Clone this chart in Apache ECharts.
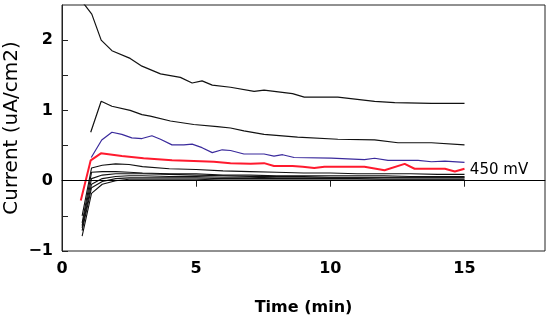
<!DOCTYPE html>
<html><head><meta charset="utf-8">
<script src="https://cdn.jsdelivr.net/npm/echarts@6/dist/echarts.min.js"></script>
<style>html,body{margin:0;padding:0;background:#fff}#c{width:550px;height:321px}</style>
</head><body><div id="c"></div>
<script>
// Series 1 (top black)
const t1 = [0.75, 1.11, 1.46, 1.86, 2.54, 2.98, 3.67, 4.41, 4.85, 5.22, 5.6, 6.28, 7.16, 7.53, 8.59, 9.03, 10.28, 11.65, 12.4, 13.77, 15.0];
const v1 = [2.55, 2.37, 2.0, 1.85, 1.74, 1.63, 1.52, 1.47, 1.39, 1.42, 1.36, 1.33, 1.27, 1.29, 1.24, 1.19, 1.19, 1.13, 1.11, 1.10, 1.10];
// Series 2 (second black)
const t2 = [1.07, 1.46, 1.86, 2.54, 2.98, 3.29, 4.04, 4.91, 5.79, 6.28, 6.78, 7.53, 8.78, 10.28, 11.65, 12.52, 13.77, 15.0];
const v2 = [0.69, 1.13, 1.06, 1.00, 0.94, 0.92, 0.85, 0.80, 0.77, 0.75, 0.71, 0.66, 0.62, 0.59, 0.58, 0.54, 0.54, 0.51];
// Series 3 (blue)
const t3 = [1.09, 1.48, 1.86, 2.23, 2.6, 2.98, 3.35, 3.67, 4.1, 4.54, 4.85, 5.22, 5.6, 5.97, 6.28, 6.78, 7.53, 7.9, 8.22, 8.65, 10.03, 11.27, 11.65, 12.15, 13.27, 13.77, 14.27, 15.0];
const v3 = [0.33, 0.58, 0.69, 0.66, 0.61, 0.60, 0.64, 0.59, 0.51, 0.51, 0.52, 0.47, 0.40, 0.44, 0.43, 0.38, 0.38, 0.35, 0.37, 0.33, 0.32, 0.30, 0.32, 0.29, 0.29, 0.27, 0.28, 0.26];
// Series 4 (red, 450 mV)
const t4 = [0.7, 1.07, 1.45, 2.23, 3.04, 4.1, 4.91, 5.66, 6.28, 7.03, 7.53, 7.9, 8.59, 8.97, 9.4, 9.78, 11.27, 12.02, 12.77, 13.14, 14.27, 14.64, 15.0];
const v4 = [-0.28, 0.29, 0.39, 0.35, 0.32, 0.29, 0.28, 0.27, 0.25, 0.24, 0.25, 0.21, 0.21, 0.20, 0.18, 0.20, 0.20, 0.15, 0.24, 0.17, 0.17, 0.13, 0.17];
// Lower black series
const tb = [0.75, 1.1, 1.5, 2.0, 2.5, 3.0, 4.0, 5.0, 6.0, 7.0, 8.0, 9.0, 10.0, 11.0, 12.0, 13.0, 14.0, 15.0];
const v5 = [-0.50, 0.18, 0.22, 0.24, 0.23, 0.20, 0.17, 0.16, 0.14, 0.13, 0.12, 0.11, 0.11, 0.10, 0.10, 0.10, 0.09, 0.09];
const v6 = [-0.60, 0.12, 0.13, 0.13, 0.12, 0.11, 0.10, 0.10, 0.08, 0.08, 0.07, 0.07, 0.07, 0.07, 0.07, 0.06, 0.06, 0.06];
const v7 = [-0.64, 0.03, 0.08, 0.10, 0.10, 0.10, 0.09, 0.08, 0.07, 0.06, 0.06, 0.06, 0.05, 0.05, 0.05, 0.05, 0.05, 0.05];
const v8 = [-0.67, -0.05, 0.03, 0.06, 0.07, 0.07, 0.06, 0.06, 0.05, 0.05, 0.04, 0.04, 0.04, 0.04, 0.04, 0.04, 0.04, 0.04];
const v9 = [-0.71, -0.10, -0.01, 0.03, 0.04, 0.04, 0.04, 0.04, 0.03, 0.03, 0.03, 0.03, 0.03, 0.03, 0.02, 0.02, 0.02, 0.02];
const v10 = [-0.79, -0.18, -0.05, 0.00, 0.02, 0.02, 0.02, 0.02, 0.01, 0.01, 0.01, 0.01, 0.01, 0.01, 0.01, 0.01, 0.01, 0.01];

const xTicks = [0, 5, 10, 15];
const xTickMarks = [0, 5, 10, 15];
const yTicks = [-1, 0, 1, 2];
const yTickMarks = [-1, -0.5, 0, 0.5, 1, 1.5, 2];
const annotation = '450 mV';

const zip = (t, v) => t.map((x, i) => [x, v[i]]);
const FONT = 'DejaVu Sans';

function lineSeries(t, v, color, width, z) {
  return { type: 'line', data: zip(t, v), symbol: 'none', clip: true, z: z || 2,
    lineStyle: { color: color, width: width }, silent: true, animation: false };
}

const series = [
  lineSeries(tb, v10, '#111', 1.1),
  lineSeries(tb, v9, '#111', 1.1),
  lineSeries(tb, v8, '#111', 1.1),
  lineSeries(tb, v7, '#111', 1.1),
  lineSeries(tb, v6, '#111', 1.1),
  lineSeries(tb, v5, '#111', 1.1),
  lineSeries(t1, v1, '#111', 1.2),
  lineSeries(t2, v2, '#111', 1.2),
  lineSeries(t3, v3, '#3a2a9c', 1.2),
  Object.assign(lineSeries(t4, v4, '#ff1a2e', 2, 3), {
    markLine: { silent: true, symbol: 'none', label: { show: false },
      lineStyle: { color: '#000', width: 1, type: 'solid' }, animation: false,
      data: [{ yAxis: 0 }] },
    markPoint: { silent: true, symbol: 'circle', symbolSize: 0, animation: false,
      label: { show: true, position: 'right', distance: 0, formatter: annotation,
        color: '#000', fontSize: 15, fontFamily: FONT },
      data: [{ coord: [15.2, 0.15] }] }
  })
];

const chart = echarts.init(document.getElementById('c'), null, { renderer: 'canvas' });
chart.setOption({
  animation: false,
  backgroundColor: '#fff',
  grid: { left: 62, top: 5, right: 5, bottom: 70, show: true, borderColor: '#222', borderWidth: 1,
    containLabel: false, outerBoundsMode: 'none' },
  xAxis: {
    type: 'value', min: 0, max: 18,
    name: 'Time (min)', nameLocation: 'middle', nameGap: 49,
    nameTextStyle: { fontSize: 16, fontWeight: 'bold', fontFamily: FONT, color: '#000' },
    axisLine: { show: true, lineStyle: { color: '#222', width: 1 } },
    axisTick: { show: true, inside: false, length: 6, customValues: xTickMarks, lineStyle: { color: '#222' } },
    axisLabel: { customValues: xTicks, fontSize: 16, fontWeight: 'bold', fontFamily: FONT, color: '#000', margin: 10 },
    splitLine: { show: false }
  },
  yAxis: {
    type: 'value', min: -1, max: 2.5,
    name: 'Current (uA/cm2)', nameLocation: 'middle', nameGap: 40, nameRotate: 90, nameMoveOverlap: false,
    nameTextStyle: { fontSize: 20, fontFamily: FONT, color: '#000' },
    axisLine: { show: true, lineStyle: { color: '#222', width: 1 } },
    axisTick: { show: true, inside: true, length: 6, customValues: yTickMarks, lineStyle: { color: '#222' } },
    axisLabel: { customValues: yTicks, fontSize: 16, fontWeight: 'bold', fontFamily: FONT, color: '#000', margin: 9,
      formatter: v => (v < 0 ? '\u2212' + Math.abs(v) : String(v)) },
    splitLine: { show: false }
  },
  series: series
});
</script>
</body></html>
